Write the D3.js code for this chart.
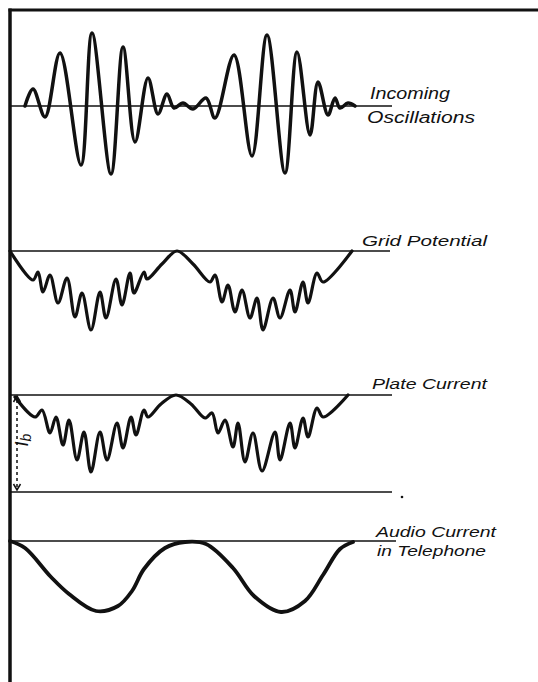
<!DOCTYPE html>
<html>
<head>
<meta charset="utf-8">
<script src="https://cdn.jsdelivr.net/npm/d3@7"></script>
<style>
  html, body { margin: 0; padding: 0; background: #fff; }
  svg { display: block; }
  text { font-family: "Liberation Sans", Arial, sans-serif; font-style: italic; fill: #111; }
</style>
</head>
<body>
<svg id="chart" width="538" height="682"></svg>
<script>
// ---- Data (time in arbitrary units, amplitude in arbitrary units) ----
const incomingT = [15, 23, 35, 50, 71, 82, 101, 113, 125, 138, 148, 157, 164, 173, 183, 196, 205, 224, 242, 257, 275, 287, 300, 308, 318, 325, 330, 338, 345];
const incomingV = [0, 17, -11, 53, -59, 73, -68, 59, -36, 28, -8, 12, -2, 3, -3, 8, -12, 51, -50, 71, -67, 54, -29, 24, -9, 8, -2, 3, 0];

const gridT = [0, 23, 28, 33, 40, 48, 57, 65, 72, 81, 90, 96, 106, 112, 120, 124, 134, 137, 152, 167, 183, 200, 205, 212, 218, 225, 232, 240, 247, 253, 263, 270, 280, 285, 293, 298, 307, 313, 342];
const gridV = [0, -29, -21, -41, -24, -52, -27, -66, -42, -79, -41, -67, -28, -54, -22, -42, -21, -28, -13, 0, -13, -31, -24, -51, -34, -61, -39, -67, -47, -79, -47, -67, -39, -61, -31, -52, -22, -31, 0];

const plateT = [5, 25, 32, 40, 46, 53, 59, 67, 74, 81, 90, 97, 107, 113, 121, 126, 134, 138, 151, 166, 181, 195, 202, 208, 215, 223, 228, 235, 243, 252, 265, 270, 280, 285, 293, 298, 307, 313, 338];
const plateV = [-2, -22, -15, -38, -22, -50, -25, -65, -37, -77, -37, -65, -28, -53, -22, -40, -15, -22, -9, 0, -9, -23, -18, -38, -25, -52, -28, -67, -38, -76, -37, -65, -28, -53, -23, -42, -13, -22, 0];

const audioT = [0, 15, 41, 59, 86, 108, 122, 134, 155, 175, 196, 223, 244, 271, 295, 313, 330, 343];
const audioV = [0, -7, -36, -53, -70, -65, -50, -28, -7, -1, -3, -27, -55, -71, -60, -34, -8, -1];

const plateBiasT = [0, 382];        // plate-current zero line span
const labelsIncoming = ["Incoming", "Oscillations"];
const labelGrid = ["Grid Potential"];
const labelPlate = ["Plate Current"];
const labelAudio = ["Audio Current", "in Telephone"];

// ---- Scales ----
const svg = d3.select("#chart");
const x = d3.scaleLinear().domain([0, 380]).range([10, 390]);
const yTop = d3.scaleLinear().domain([-80, 80]).range([186, 26]);
const yGrid = d3.scaleLinear().domain([-100, 0]).range([351, 251]);
const yPlate = d3.scaleLinear().domain([-100, 0]).range([495, 395]);
const yAudio = d3.scaleLinear().domain([-100, 0]).range([641, 541]);

const zip = (T, V) => T.map((t, i) => [t, V[i]]);

// ---- Frame ----
svg.append("line").attr("x1", 10).attr("x2", 10).attr("y1", 8.5).attr("y2", 682)
  .attr("stroke", "#111").attr("stroke-width", 3.5);
svg.append("line").attr("x1", 8.5).attr("x2", 538).attr("y1", 10).attr("y2", 10)
  .attr("stroke", "#111").attr("stroke-width", 3);

// ---- Baselines ----
function baseline(y, t0, t1, w) {
  svg.append("line").attr("x1", x(t0)).attr("x2", x(t1))
    .attr("y1", y(0)).attr("y2", y(0))
    .attr("stroke", "#111").attr("stroke-width", w);
}
baseline(yTop, 0, 382, 1.6);
baseline(yGrid, 0, 380, 1.6);
baseline(yPlate, 0, 382, 1.6);
baseline(yAudio, 0, 386, 1.6);
// plate zero-current line
svg.append("line").attr("x1", x(plateBiasT[0])).attr("x2", x(plateBiasT[1]))
  .attr("y1", yPlate(-97)).attr("y2", yPlate(-97))
  .attr("stroke", "#111").attr("stroke-width", 1.6);
svg.append("circle").attr("cx", x(392)).attr("cy", yPlate(-102)).attr("r", 1.3).attr("fill", "#111");

// ---- Curves ----
function curve(T, V, y, w, c) {
  svg.append("path").datum(zip(T, V))
    .attr("fill", "none").attr("stroke", "#111").attr("stroke-width", w)
    .attr("stroke-linejoin", "round").attr("stroke-linecap", "round")
    .attr("d", d3.line().x(d => x(d[0])).y(d => y(d[1])).curve(c));
}
curve(incomingT, incomingV, yTop, 3.5, d3.curveCatmullRom.alpha(0.5));
curve(gridT, gridV, yGrid, 3.2, d3.curveCatmullRom.alpha(0.5));
curve(plateT, plateV, yPlate, 3.2, d3.curveCatmullRom.alpha(0.5));
curve(audioT, audioV, yAudio, 3.8, d3.curveCatmullRom.alpha(0.5));

// ---- I_b dashed arrow ----
const ax = x(7);
svg.append("line").attr("x1", ax).attr("x2", ax)
  .attr("y1", yPlate(-5)).attr("y2", yPlate(-94))
  .attr("stroke", "#111").attr("stroke-width", 1.5).attr("stroke-dasharray", "3,3");
svg.append("path")
  .attr("d", `M${ax - 3.5},${yPlate(-89)} L${ax},${yPlate(-95)} L${ax + 3.5},${yPlate(-89)}`)
  .attr("fill", "none").attr("stroke", "#111").attr("stroke-width", 1.5);
svg.append("path")
  .attr("d", `M${ax - 3.5},${yPlate(-7)} L${ax},${yPlate(-1)} L${ax + 3.5},${yPlate(-7)}`)
  .attr("fill", "none").attr("stroke", "#111").attr("stroke-width", 1.5);
const ib = svg.append("text").attr("transform", `translate(${ax + 11},${yPlate(-45)}) rotate(-90)`)
  .attr("font-size", 18).attr("fill", "#111").attr("text-anchor", "middle");
ib.append("tspan").attr("fill", "#111").text("I");
ib.append("tspan").attr("fill", "#111").attr("font-size", 14).attr("dy", 3).text("b");

// ---- Labels ----
function label(txt, lx, ly, len, fs) {
  svg.append("text").attr("x", lx).attr("y", ly).attr("font-size", fs)
    .attr("textLength", len).attr("lengthAdjust", "spacingAndGlyphs").text(txt);
}
label(labelsIncoming[0], 370, 99, 80, 16);
label(labelsIncoming[1], 367, 123, 108, 16);
label(labelGrid[0], 362, 246, 125, 15);
label(labelPlate[0], 372, 389, 115, 15);
label(labelAudio[0], 376, 537, 120, 15);
label(labelAudio[1], 377, 556, 109, 15);
</script>
</body>
</html>
